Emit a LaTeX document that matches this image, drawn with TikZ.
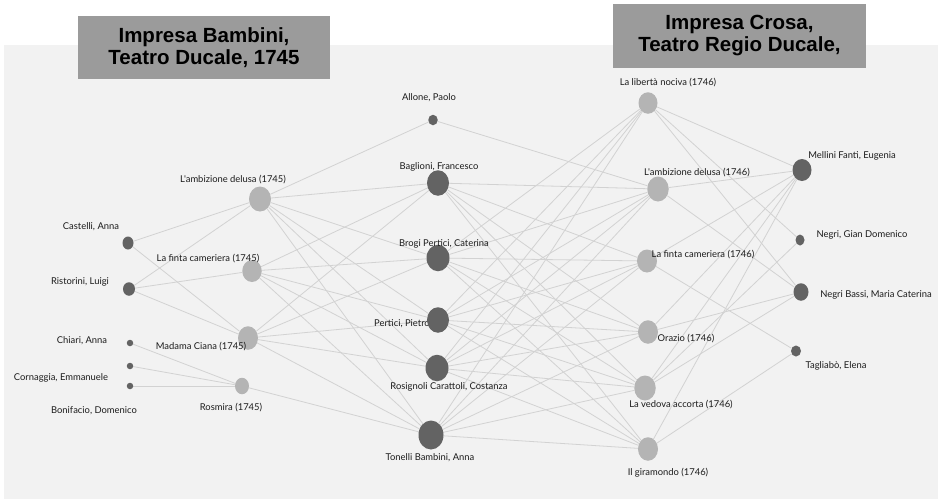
\documentclass[tikz,border=0pt]{standalone}
\usepackage{fontspec}
\usetikzlibrary{shapes.geometric}
\newfontfamily\lblfont{Lato}
\newfontfamily\hdrfont{Liberation Sans}
\definecolor{panelc}{HTML}{F2F2F2}
\definecolor{edgec}{HTML}{D2D2D2}
\definecolor{perc}{HTML}{636363}
\definecolor{opc}{HTML}{B4B4B4}
\definecolor{hdrc}{HTML}{9B9B9B}
\definecolor{txtc}{HTML}{1C1C1C}
\pgfdeclarelayer{bg}
\pgfsetlayers{bg,main}
\tikzset{
  dot/.style 2 args={ellipse, draw=none, inner sep=0pt, minimum width=#1, minimum height=#2},
  person/.style={fill=perc},
  opera/.style={fill=opc},
  lbl/.style={font=\lblfont\fontsize{9.4}{11}\selectfont, text=txtc, inner sep=0pt},
  hdr/.style={fill=hdrc, draw=none, align=center, inner sep=0pt,
    font=\hdrfont\bfseries\fontsize{20.5}{22}\selectfont, text=black},
  link/.style={draw=edgec, line width=0.8pt}
}
\begin{document}
\begin{tikzpicture}[x=1pt,y=-1pt]
\useasboundingbox (0,0) rectangle (943,499);
\begin{pgfonlayer}{bg}
\fill[white] (0,0) rectangle (943,499);
\fill[panelc] (4,45) rectangle (938,499);
\end{pgfonlayer}
% label drawn under its node
\node[lbl] (lper) at (402,324) {Pertici, Pietro};
% left persons
\node[dot={11}{13}, person] (cas) at (128,243) {};
\node[dot={12}{13.5}, person] (ris) at (129,289) {};
\node[dot={6.5}{6.5}, person] (chi) at (130,343) {};
\node[dot={6.5}{6.5}, person] (cor) at (130,366) {};
\node[dot={6.5}{6.5}, person] (bon) at (130,386) {};
% left operas
\node[dot={22}{25}, opera] (a45) at (260,199) {};
\node[dot={19.5}{22}, opera] (f45) at (252,271) {};
\node[dot={20}{23.5}, opera] (m45) at (248,338) {};
\node[dot={14}{16.5}, opera] (r45) at (242,386) {};
% middle persons
\node[dot={9.5}{10.5}, person] (all) at (433,120) {};
\node[dot={22}{25.5}, person] (bag) at (438,183) {};
\node[dot={23}{26.5}, person] (bro) at (438,258) {};
\node[dot={22}{25.5}, person] (per) at (438,320) {};
\node[dot={23}{26.5}, person] (rsg) at (437,368) {};
\node[dot={25}{29}, person] (ton) at (431,435) {};
% right operas
\node[dot={19}{21.5}, opera] (lib) at (648,103) {};
\node[dot={21.5}{25}, opera] (a46) at (658,189) {};
\node[dot={20}{23}, opera] (f46) at (647,261) {};
\node[dot={20}{23.5}, opera] (ora) at (648,332) {};
\node[dot={21.5}{25}, opera] (ved) at (645,388) {};
\node[dot={20}{23.5}, opera] (gir) at (648,449) {};
% right persons
\node[dot={19}{22}, person] (mel) at (802,170) {};
\node[dot={9}{11}, person] (gdn) at (800,240) {};
\node[dot={15}{17.5}, person] (nbs) at (801,292) {};
\node[dot={10}{11}, person] (tag) at (796,351) {};
% connectors
\begin{pgfonlayer}{bg}
\foreach \a/\b in {cas/a45,cas/m45,ris/a45,ris/f45,ris/m45,chi/r45,cor/r45,bon/r45,all/a45,ton/r45,all/a46,gdn/lib,gdn/ved,nbs/lib,nbs/a46,nbs/ora,nbs/ved,tag/f46,tag/gir}
  \draw[link] (\a) -- (\b);
\foreach \p in {bag,bro,per,rsg,ton}
  \foreach \o in {a45,f45,m45}
    \draw[link] (\p) -- (\o);
\foreach \p in {bro,per,rsg,ton,mel}
  \foreach \o in {lib,a46,f46,ora,ved,gir}
    \draw[link] (\p) -- (\o);
\foreach \o in {a46,f46,ora,ved,gir}
  \draw[link] (bag) -- (\o);
\end{pgfonlayer}
% headers
\node[hdr, minimum width=252pt, minimum height=63pt] (h1) at (204,47.5) {Impresa Bambini,\\Teatro Ducale, 1745};
\node[hdr, minimum width=253pt, minimum height=64pt] (h2) at (739.5,36) {Impresa Crosa,\\Teatro Regio Ducale,};
% labels
\node[lbl] (lcas) at (91,227) {Castelli, Anna};
\node[lbl] (lris) at (80,282) {Ristorini, Luigi};
\node[lbl] (lchi) at (82,341) {Chiari, Anna};
\node[lbl] (lcor) at (61,378) {Cornaggia, Emmanuele};
\node[lbl] (lbon) at (94,411) {Bonifacio, Domenico};
\node[lbl] (la45) at (233,180) {L'ambizione delusa (1745)};
\node[lbl] (lf45) at (208,259) {La finta cameriera (1745)};
\node[lbl] (lm45) at (201,347) {Madama Ciana (1745)};
\node[lbl] (lr45) at (231,408) {Rosmira (1745)};
\node[lbl] (lall) at (429,98) {Allone, Paolo};
\node[lbl] (lbag) at (439,167) {Baglioni, Francesco};
\node[lbl] (lbro) at (444,244) {Brogi Pertici, Caterina};
\node[lbl] (lrsg) at (449,387) {Rosignoli Carattoli, Costanza};
\node[lbl] (lton) at (430,458) {Tonelli Bambini, Anna};
\node[lbl] (llib) at (668,83) {La libertà nociva (1746)};
\node[lbl] (la46) at (697,173) {L'ambizione delusa (1746)};
\node[lbl] (lf46) at (703,255) {La finta cameriera (1746)};
\node[lbl] (lora) at (686,339) {Orazio (1746)};
\node[lbl] (lved) at (681,405) {La vedova accorta (1746)};
\node[lbl] (lgir) at (668,473) {Il giramondo (1746)};
\node[lbl] (lmel) at (852,156) {Mellini Fanti, Eugenia};
\node[lbl] (lgdn) at (862,235) {Negri, Gian Domenico};
\node[lbl] (lnbs) at (876,295) {Negri Bassi, Maria Caterina};
\node[lbl] (ltag) at (836,366) {Tagliabò, Elena};
\end{tikzpicture}
\end{document}
